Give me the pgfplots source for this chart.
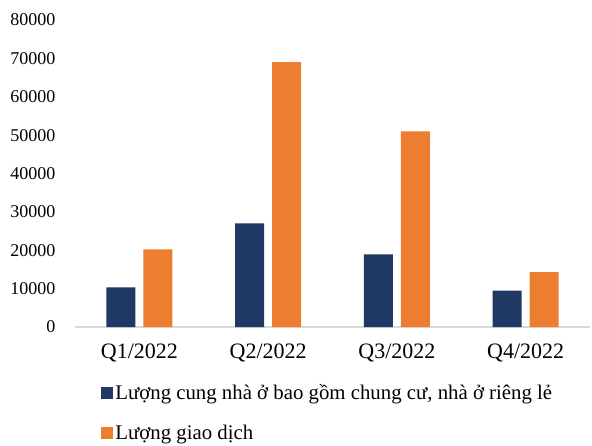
\documentclass[border=0pt]{standalone}
\usepackage{pgfplots}
\pgfplotsset{compat=1.18}
\usepackage{fontspec}
\setmainfont{Liberation Serif}
\definecolor{navy}{HTML}{203864}
\definecolor{orng}{HTML}{ED7D31}
\begin{document}
\begin{tikzpicture}
\begin{axis}[
  scale only axis, width=515pt, height=307pt,
  ymin=0, ymax=80000, ytick={0,10000,...,80000},
  xmin=-0.5, xmax=3.5, xtick={0,1,2,3},
  xticklabels={Q1/2022,Q2/2022,Q3/2022,Q4/2022},
  ybar, bar width=29pt, ybar=8pt,
  axis x line*=bottom, axis y line*=left,
  y axis line style={draw=none},
  x axis line style={draw=black!15, line width=1.5pt, -},
  major tick length=0pt,
  scaled y ticks=false,
  /pgf/number format/1000 sep={},
  /pgf/number format/assume math mode=true,
  yticklabel style={font=\fontsize{18}{21}\selectfont, xshift=-16pt},
  xticklabel style={font=\fontsize{22}{26}\selectfont, yshift=-13pt},
  legend style={at={(axis description cs:0.045,-0.175)}, anchor=north west,
    draw=none, font=\fontsize{20.8}{24}\selectfont, row sep=20pt,
    cells={anchor=west}},
  legend cell align=left,
  legend image code/.code={\fill[#1] (0pt,-6pt) rectangle (12pt,6pt);},
]
\addplot[fill=navy, draw=none] coordinates {(0,10300) (1,27000) (2,18900) (3,9500)};
\addplot[fill=orng, draw=none] coordinates {(0,20200) (1,69000) (2,51000) (3,14300)};
\legend{{Lượng cung nhà ở bao gồm chung cư, nhà ở riêng lẻ}, {Lượng giao dịch}}
\end{axis}
\path (current axis.south west) ++(-75pt,-118pt);
\path (current axis.north east) ++(2pt,20pt);
\end{tikzpicture}
\end{document}
